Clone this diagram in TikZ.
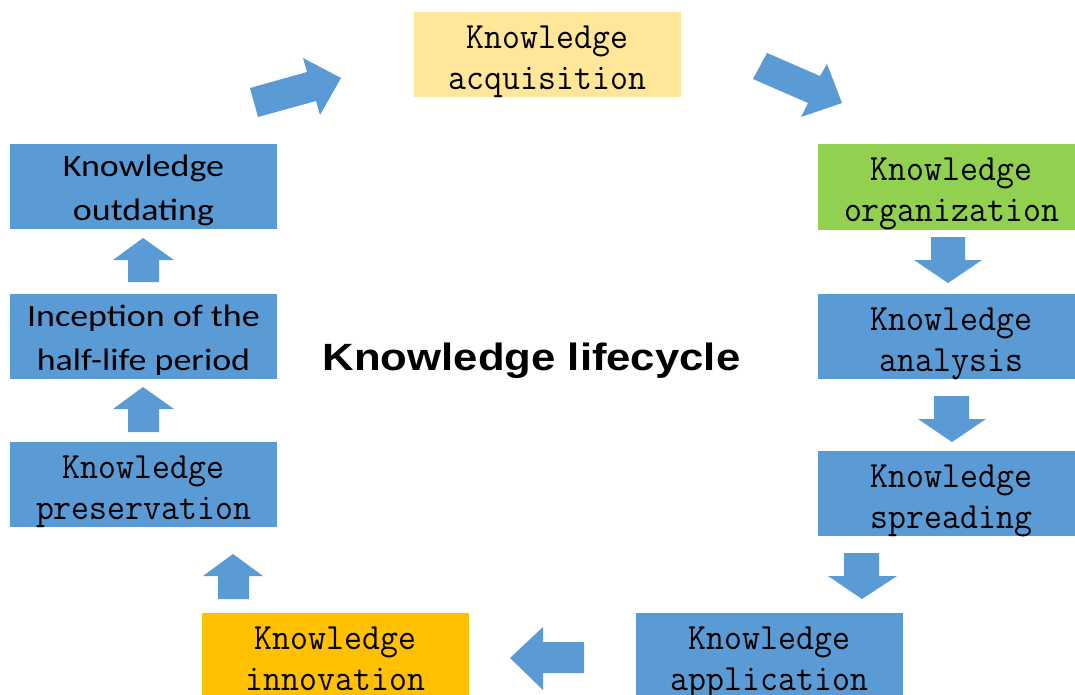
\documentclass[tikz,border=0pt]{standalone}
\usepackage{fontspec}
\usepackage{graphicx}
\newfontfamily\calfont{Carlito}
\newfontfamily\ttlfont{Liberation Sans}
\definecolor{kblue}{RGB}{91,155,213}
\definecolor{kyellow}{RGB}{255,230,153}
\definecolor{kgreen}{RGB}{146,208,80}
\definecolor{korange}{RGB}{255,192,0}
\newcommand{\mt}[1]{\scalebox{0.94}[1]{#1}}
\newcommand{\ct}[1]{\scalebox{1.16}[1]{#1}}
\begin{document}
\begin{tikzpicture}[x=1pt,y=-1pt]
\tikzset{
  box/.style={rectangle, minimum width=267pt, minimum height=85pt, inner sep=0pt, draw=none},
  mono/.style={font=\fontsize{37}{41}\selectfont\ttfamily, align=center, inner sep=0pt, anchor=north},
  cal/.style={font=\fontsize{31}{43.5}\selectfont\calfont, align=center, inner sep=0pt, anchor=north},
  barrow/.style={fill=kblue, draw=none}
}
\useasboundingbox (0,0) rectangle (1075,695);
\clip (0,0) rectangle (1075,695);
\fill[white] (0,0) rectangle (1075,695);

% boxes
\node[box, fill=kyellow] (acq) at (547.5,54.5) {};
\node[box, fill=kgreen]  (org) at (951.5,187) {};
\node[box, fill=kblue]   (ana) at (951.5,336.5) {};
\node[box, fill=kblue]   (spr) at (951.5,493.5) {};
\node[box, fill=kblue]   (app) at (769.5,655.5) {};
\node[box, fill=korange] (inn) at (335.5,655.5) {};
\node[box, fill=kblue]   (pres) at (143.5,484.5) {};
\node[box, fill=kblue]   (inc) at (143.5,336.5) {};
\node[box, fill=kblue]   (outd) at (143.5,186.5) {};

% texts
\node[mono] (acqT) at ([yshift=-13.4pt]acq.north) {\mt{Knowledge}\\\mt{acquisition}};
\node[mono] (orgT) at ([yshift=-13.4pt]org.north) {\mt{Knowledge}\\\mt{organization}};
\node[mono] (anaT) at ([yshift=-13.4pt]ana.north) {\mt{Knowledge}\\\mt{analysis}};
\node[mono] (sprT) at ([yshift=-13.4pt]spr.north) {\mt{Knowledge}\\\mt{spreading}};
\node[mono] (appT) at ([yshift=-13.4pt]app.north) {\mt{Knowledge}\\\mt{application}};
\node[mono] (innT) at ([yshift=-13.4pt]inn.north) {\mt{Knowledge}\\\mt{innovation}};
\node[mono] (presT) at ([yshift=-13.4pt]pres.north) {\mt{Knowledge}\\\mt{preservation}};
\node[cal] (incT) at ([yshift=-11.3pt]inc.north) {\ct{Inception of the}\\\ct{half-life period}};
\node[cal] (outdT) at ([yshift=-11.3pt]outd.north) {\ct{Knowledge}\\\ct{outdating}};

\node[anchor=base, inner sep=0pt, font=\fontsize{38}{40}\selectfont\ttlfont\bfseries] (title) at (531.5,370) {\scalebox{1.15}[1]{Knowledge lifecycle}};

% block arrows
\path[barrow] (250,88) -- (307,72) -- (303,58) -- (341,78) -- (320,115) -- (316,101) -- (258,117) -- cycle;
\path[barrow] (767,53) -- (820,76) -- (827,64) -- (842,103) -- (801,117) -- (808,103) -- (753,79) -- cycle;
\path[barrow] (931,237) -- (965,237) -- (965,260) -- (982,260) -- (948,283) -- (914,260) -- (931,260) -- cycle;
\path[barrow] (934,396) -- (969,396) -- (969,419) -- (986,419) -- (952,442) -- (918,419) -- (934,419) -- cycle;
\path[barrow] (844,553) -- (879,553) -- (879,576) -- (897,576) -- (862,599) -- (828,576) -- (844,576) -- cycle;
\path[barrow] (584,642) -- (584,673) -- (543,673) -- (543,690) -- (510,658) -- (543,627) -- (543,642) -- cycle;
\path[barrow] (218,599) -- (249,599) -- (249,576) -- (263,576) -- (233,554) -- (203,576) -- (218,576) -- cycle;
\path[barrow] (128,432) -- (159,432) -- (159,409) -- (174,409) -- (143,387) -- (113,409) -- (128,409) -- cycle;
\path[barrow] (128,282) -- (159,282) -- (159,260) -- (174,260) -- (143,238) -- (113,260) -- (128,260) -- cycle;
\end{tikzpicture}
\end{document}
